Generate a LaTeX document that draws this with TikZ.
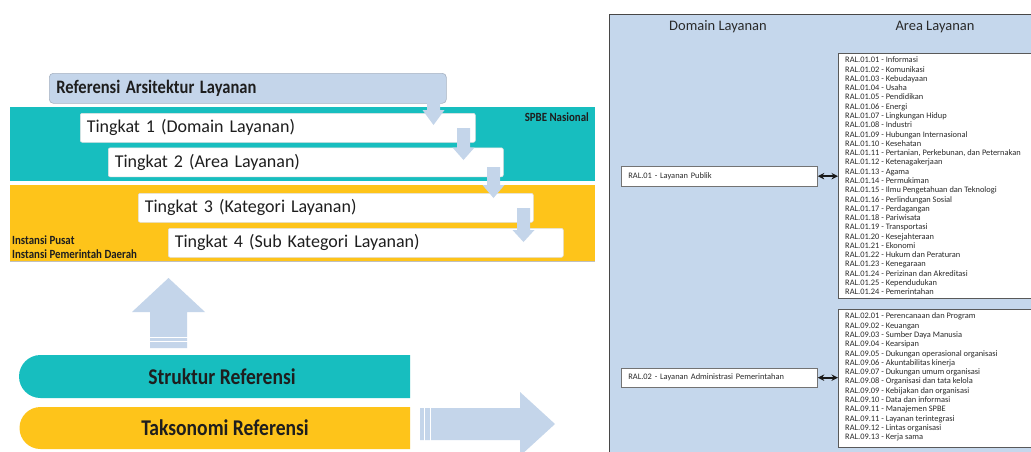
\documentclass[tikz,border=0pt]{standalone}
\usepackage{fontspec}
\usepackage{graphicx}
\setmainfont{Carlito}
\newcommand\cnd[1]{\scalebox{0.87}[1]{#1}}
\usetikzlibrary{arrows.meta}
\definecolor{tealc}{HTML}{17BEBF}
\definecolor{goldc}{HTML}{FEC41A}
\definecolor{lblue}{HTML}{C4D5EA}
\definecolor{panelc}{HTML}{C5D7EC}
\definecolor{txtc}{HTML}{1E1E1E}
\definecolor{ptxt}{HTML}{2A2A2A}
\tikzset{
  band/.style={inner sep=0, anchor=north west},
  tbox/.style={fill=white, draw=black!12, line width=0.6pt, rounded corners=2pt,
    anchor=north west, inner xsep=6.5pt, inner ysep=0pt, minimum height=29pt,
    text width=382pt, align=left, text=txtc, font=\fontsize{18}{20}\selectfont},
  reftitle/.style={fill=lblue, draw=lblue!80!black!90, line width=0.6pt, rounded corners=4pt,
    anchor=north west, inner xsep=7pt, inner ysep=0pt, minimum height=30pt,
    text width=383pt, align=left, text=txtc, font=\bfseries\fontsize{19}{21}\selectfont},
  smallb/.style={font=\bfseries\fontsize{12.5}{14}\selectfont, text=txtc, inner sep=0},
  bartxt/.style={font=\bfseries\fontsize{22.5}{24}\selectfont, text=txtc, inner sep=0},
  hdr/.style={font=\fontsize{14.5}{16}\selectfont, text=ptxt, inner sep=0},
  listtxt/.style={font=\fontsize{8.4}{9.3}\selectfont, text=ptxt, inner sep=0, anchor=base west},
  areabox/.style={fill=white, draw=black!65, line width=0.8pt, anchor=north west, inner sep=0},
  dombox/.style={fill=white, draw=black!55, line width=0.8pt, anchor=north west, inner xsep=7pt,
    inner ysep=0pt, minimum height=19.5pt, text width=182pt, align=left,
    font=\fontsize{8.4}{9.3}\selectfont, text=ptxt},
  dbl/.style={{Stealth[length=6.5pt,width=6.5pt]}-{Stealth[length=6.5pt,width=6.5pt]}, line width=1.9pt, black!90}
}
\newcommand\blockdown[4]{% center x, top y, head start y, tip y
  \fill[lblue] (#1-6.5,#2) -- (#1+6.5,#2) -- (#1+6.5,#3) -- (#1+11,#3) -- (#1,#4)
    -- (#1-11,#3) -- (#1-6.5,#3) -- cycle;}
\begin{document}
\begin{tikzpicture}[x=1pt,y=-1pt]
\clip (0,0) rectangle (1031,451);
\fill[white] (0,0) rectangle (1031,451);

% ---------- left: layered structure ----------
\node[band, fill=tealc, minimum width=585pt, minimum height=74pt] (nas) at (10,107) {};
\node[band, fill=goldc, minimum width=585pt, minimum height=76pt] (ins) at (10,185) {};
\draw[black!25, line width=0.6pt] (ins.south west) -- (ins.south east);
\node[smallb, anchor=base east] (spbe) at (589,121) {\cnd{SPBE Nasional}};
\node[smallb, anchor=base west] (ip1) at (12,244) {\cnd{Instansi Pusat}};
\node[smallb, anchor=base west] (ip2) at (12,258) {\cnd{Instansi Pemerintah Daerah}};

\node[reftitle] (ref) at (49,73) {\cnd{Referensi Arsitektur Layanan}};
\node[tbox] (t1) at (80,113) {Tingkat 1 (Domain Layanan)};
\node[tbox] (t2) at (108,147.5) {Tingkat 2 (Area Layanan)};
\node[tbox] (t3) at (138,193) {Tingkat 3 (Kategori Layanan)};
\node[tbox] (t4) at (168,228) {Tingkat 4 (Sub Kategori Layanan)};

\blockdown{433.5}{103}{110}{125}
\blockdown{463.5}{128}{147.5}{160}
\blockdown{493.5}{167}{185}{198}
\blockdown{523.5}{208}{230}{242}

% up block arrow with stripes
\fill[lblue] (150,348) -- (150,312) -- (132,312) -- (168.5,278) -- (205,312) -- (187,312) -- (187,348) -- cycle;
\draw[white, line width=0.9pt] (149,337.5) -- (188,337.5) (149,341.5) -- (188,341.5);

% reference bars
\fill[tealc] (410,355) -- (40.5,355) arc[start angle=-90, end angle=-270, radius=21.5] -- (410,398) -- cycle;
\fill[goldc] (410,407) -- (40.5,407) arc[start angle=-90, end angle=-270, radius=21] -- (410,449) -- cycle;
\node[bartxt] (struk) at (222,377) {\cnd{Struktur Referensi}};
\node[bartxt] (takso) at (225,428) {\cnd{Taksonomi Referensi}};

% right block arrow with stripes
\fill[lblue] (420,408) -- (520,408) -- (520,392) -- (555,424) -- (520,456) -- (520,440) -- (420,440) -- cycle;
\draw[white, line width=0.9pt] (424,407) -- (424,441) (430,407) -- (430,441);

% ---------- right: panel ----------
\node[band, fill=panelc, draw=black!72, line width=1.2pt, minimum width=450pt, minimum height=460pt] (pan) at (609,14) {};
\node[hdr] (hdom) at (718,27) {Domain Layanan};
\node[hdr] (hare) at (935,27) {Area Layanan};

\node[areabox, minimum width=220pt, minimum height=245pt] (a1) at (838,53) {};
\node[areabox, minimum width=220pt, minimum height=138pt] (a2) at (838,309) {};

\node[dombox] (d1) at (621,166) {RAL.01 - Layanan Publik};
\node[dombox] (d2) at (621,367.5) {RAL.02 - Layanan Administrasi Pemerintahan};

\draw[dbl] (d1.east) -- (a1.west |- d1.east);
\draw[dbl] (d2.east) -- (a2.west |- d2.east);

\foreach \t [count=\i from 0] in {
  RAL.01.01 - Informasi, RAL.01.02 - Komunikasi, RAL.01.03 - Kebudayaan, RAL.01.04 - Usaha,
  RAL.01.05 - Pendidikan, RAL.01.06 - Energi, RAL.01.07 - Lingkungan Hidup, RAL.01.08 - Industri,
  RAL.01.09 - Hubungan Internasional, RAL.01.10 - Kesehatan,
  {RAL.01.11 - Pertanian, Perkebunan, dan Peternakan}, RAL.01.12 - Ketenagakerjaan,
  RAL.01.13 - Agama, RAL.01.14 - Permukiman, RAL.01.15 - Ilmu Pengetahuan dan Teknologi,
  RAL.01.16 - Perlindungan Sosial, RAL.01.17 - Perdagangan, RAL.01.18 - Pariwisata,
  RAL.01.19 - Transportasi, RAL.01.20 - Kesejahteraan, RAL.01.21 - Ekonomi,
  RAL.01.22 - Hukum dan Peraturan, RAL.01.23 - Kenegaraan, RAL.01.24 - Perizinan dan Akreditasi,
  RAL.01.25 - Kependudukan, RAL.01.24 - Pemerintahan}
  \node[listtxt] (p\i) at (845,62.8+9.28*\i) {\t};

\foreach \t [count=\i from 0] in {
  RAL.02.01 - Perencanaan dan Program, RAL.09.02 - Keuangan, RAL.09.03 - Sumber Daya Manusia,
  RAL.09.04 - Kearsipan, RAL.09.05 - Dukungan operasional organisasi,
  RAL.09.06 - Akuntabilitas kinerja, RAL.09.07 - Dukungan umum organisasi,
  RAL.09.08 - Organisasi dan tata kelola, RAL.09.09 - Kebijakan dan organisasi,
  RAL.09.10 - Data dan informasi, RAL.09.11 - Manajemen SPBE, RAL.09.11 - Layanan terintegrasi,
  RAL.09.12 - Lintas organisasi, RAL.09.13 - Kerja sama}
  \node[listtxt] (q\i) at (845,318.8+9.3*\i) {\t};
\end{tikzpicture}
\end{document}
